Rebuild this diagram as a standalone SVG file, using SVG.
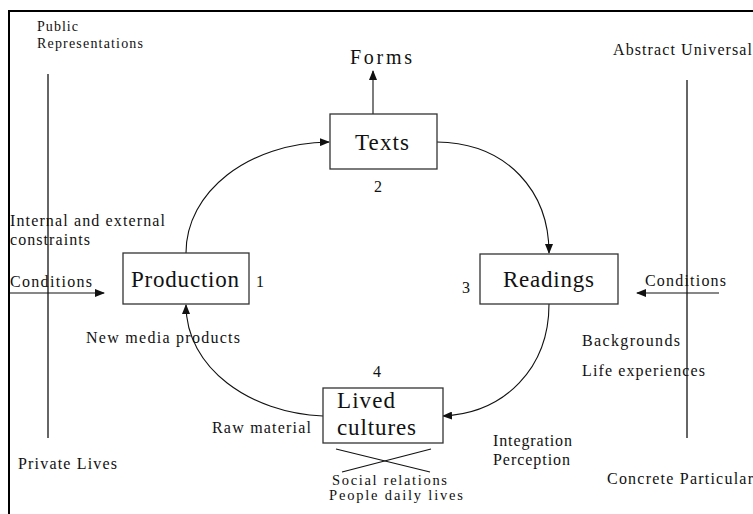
<svg xmlns="http://www.w3.org/2000/svg" width="753" height="514" viewBox="0 0 753 514">
<style>
text{font-family:"Liberation Serif","Times New Roman",serif;fill:#111}
.s{font-size:16px}
.xs{font-size:14px}
.t{font-size:14.5px}
.b{font-size:23px}
.box{fill:#fff;stroke:#333;stroke-width:1.3}
.ln{fill:none;stroke:#111;stroke-width:1.1}
.ax{stroke:#666;stroke-width:2}
</style>
<defs>
<marker id="ah" markerWidth="10" markerHeight="8" refX="9" refY="4" orient="auto" markerUnits="userSpaceOnUse">
<path d="M0,0 L10,4 L0,8 Z" fill="#111"/>
</marker>
</defs>
<rect width="753" height="514" fill="#fff"/>
<g id="frame">
<path d="M9,514 L9,11 L753,11" fill="none" stroke="#000" stroke-width="2"/>
</g>
<g id="axes">
<line class="ax" x1="48" y1="74" x2="48" y2="438"/>
<line class="ax" x1="687" y1="80" x2="687" y2="438"/>
<text class="xs" x="37" y="31" textLength="41" lengthAdjust="spacing">Public</text>
<text class="xs" x="37" y="48" textLength="106" lengthAdjust="spacing">Representations</text>
<text class="s" x="613" y="55" textLength="139" lengthAdjust="spacing">Abstract Universal</text>
<text class="s" x="18" y="469" textLength="99" lengthAdjust="spacing">Private Lives</text>
<text class="s" x="607" y="484" textLength="146" lengthAdjust="spacing">Concrete Particular</text>
</g>
<g id="connectors">
<line class="ln" x1="373" y1="114" x2="373" y2="71" marker-end="url(#ah)"/>
<path class="ln" d="M186,253 C186,192 248,143 329,142" marker-end="url(#ah)"/>
<path class="ln" d="M437,142 C508,143 549,192 549,253" marker-end="url(#ah)"/>
<path class="ln" d="M549,304 C549,368 505,413 443,416" marker-end="url(#ah)"/>
<path class="ln" d="M323,416 C250,413 186,368 186,305" marker-end="url(#ah)"/>
<line class="ln" x1="10" y1="293" x2="104" y2="293" marker-end="url(#ah)"/>
<line class="ln" x1="719" y1="293" x2="637" y2="293" marker-end="url(#ah)"/>
<line class="ln" x1="336" y1="449" x2="430" y2="472"/>
<line class="ln" x1="342" y1="472" x2="431" y2="449"/>
</g>
<g id="forms">
<text x="350" y="64" font-size="20" textLength="62" lengthAdjust="spacing">Forms</text>
</g>
<g id="texts">
<rect class="box" x="330" y="114" width="107" height="55"/>
<text class="b" x="355" y="150" textLength="54" lengthAdjust="spacing">Texts</text>
<text class="s" x="374" y="192">2</text>
</g>
<g id="production">
<rect class="box" x="123" y="253" width="126" height="51"/>
<text class="b" x="131" y="287" textLength="108" lengthAdjust="spacing">Production</text>
<text class="s" x="256" y="287">1</text>
</g>
<g id="readings">
<rect class="box" x="480" y="254" width="138" height="50"/>
<text class="b" x="503" y="287" textLength="91" lengthAdjust="spacing">Readings</text>
<text class="s" x="462" y="293">3</text>
</g>
<g id="lived">
<rect class="box" x="323" y="388" width="120" height="55"/>
<text class="b" x="337" y="408" textLength="58" lengthAdjust="spacing">Lived</text>
<text class="b" x="337" y="435" textLength="79" lengthAdjust="spacing">cultures</text>
<text class="s" x="373" y="377">4</text>
</g>
<g id="labels">
<text class="s" x="10" y="226" textLength="155" lengthAdjust="spacing">Internal and external</text>
<text class="s" x="10" y="245" textLength="80" lengthAdjust="spacing">constraints</text>
<text class="s" x="10" y="287" textLength="82" lengthAdjust="spacing">Conditions</text>
<text class="s" x="86" y="343" textLength="154" lengthAdjust="spacing">New media products</text>
<text class="s" x="645" y="286" textLength="81" lengthAdjust="spacing">Conditions</text>
<text class="s" x="582" y="346" textLength="98" lengthAdjust="spacing">Backgrounds</text>
<text class="s" x="582" y="376" textLength="123" lengthAdjust="spacing">Life experiences</text>
<text class="s" x="212" y="433" textLength="99" lengthAdjust="spacing">Raw material</text>
<text class="s" x="493" y="446" textLength="79" lengthAdjust="spacing">Integration</text>
<text class="s" x="493" y="465" textLength="77" lengthAdjust="spacing">Perception</text>
<text class="t" x="332" y="485" textLength="115" lengthAdjust="spacing">Social relations</text>
<text class="t" x="329" y="500" textLength="134" lengthAdjust="spacing">People daily lives</text>
</g>
</svg>
